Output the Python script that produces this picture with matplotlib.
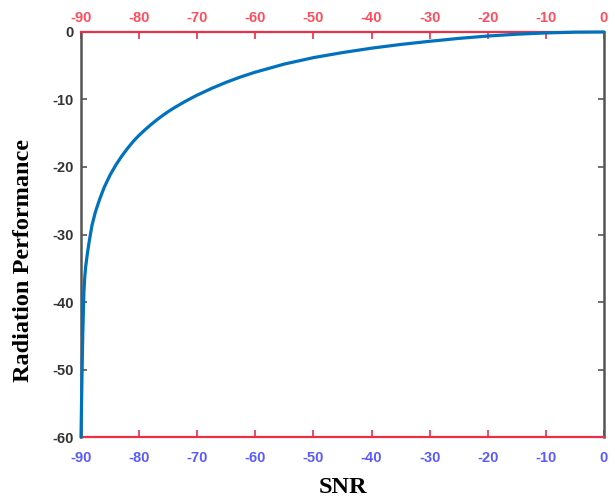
import numpy as np
import matplotlib
matplotlib.use('Agg')
from matplotlib import pyplot as plt

# curve (SNR vs radiation performance)
snr = [-90, -89.85, -89.7, -89.5, -89.35, -89.2, -88.9, -88.6, -88.1, -87.5, -86.8,
       -86, -85, -84, -83, -82, -81, -80, -79, -78, -77, -76, -75, -74, -72, -70,
       -67.5, -65, -62.5, -60, -55, -50, -45, -40, -35, -30, -25, -20, -15, -10, -5, 0]
perf = [-60, -52, -45, -38.5, -36.3, -34.8, -32.8, -31.1, -28.6, -26.6, -24.8,
        -23.0, -21.2, -19.7, -18.4, -17.25, -16.2, -15.3, -14.5, -13.75, -13.05, -12.4,
        -11.8, -11.25, -10.25, -9.35,
        -8.35, -7.45, -6.65, -5.95, -4.75, -3.8, -3.05, -2.4, -1.85, -1.38, -0.95,
        -0.6, -0.33, -0.14, -0.03, 0]
xticks = [-90, -80, -70, -60, -50, -40, -30, -20, -10, 0]
yticks = [-60, -50, -40, -30, -20, -10, 0]

fig = plt.figure(figsize=(6.15, 4.99), dpi=100)
ax = fig.add_axes([0.1317, 0.1242, 0.8503, 0.8117])
ax.plot(snr, perf, color='#0072BD', lw=2.3, solid_capstyle='round',
        solid_joinstyle='round', zorder=3, clip_on=False)
ax.set_xlim(-90, 0)
ax.set_ylim(-60, 0)

red = '#e8304a'
gray = '#555555'
for s in ['top', 'bottom']:
    ax.spines[s].set_color(red)
    ax.spines[s].set_linewidth(1.6)
for s in ['left', 'right']:
    ax.spines[s].set_color(gray)
    ax.spines[s].set_linewidth(1.8)

tick_font = {'family': 'Liberation Sans', 'weight': 'bold', 'size': 10.5}
ax.set_xticks(xticks)
ax.set_yticks(yticks)
ax.set_xticklabels([str(t) for t in xticks], color='#5a5aff', **tick_font)
ax.set_yticklabels([str(t) for t in yticks], color='#333333', **tick_font)
ax.tick_params(axis='x', direction='in', length=5, width=1.2, color=red, pad=10,
               top=True)
ax.tick_params(axis='y', direction='in', length=4, width=1.2, color=gray, pad=5,
               right=True)

top = ax.secondary_xaxis('top')
top.set_xticks(xticks)
top.set_xticklabels([str(t) for t in xticks], color='#ff4d5e', **tick_font)
top.tick_params(direction='in', length=0, pad=5)
top.spines['top'].set_visible(False)

ax.set_xlabel('SNR', family='Liberation Serif', weight='bold', size=17.5, labelpad=9)
ax.set_ylabel('Radiation Performance', family='Liberation Serif', weight='bold',
              size=17.5)
ax.yaxis.set_label_coords(-0.09, 0.437)

fig.savefig('out.png', dpi=100)
